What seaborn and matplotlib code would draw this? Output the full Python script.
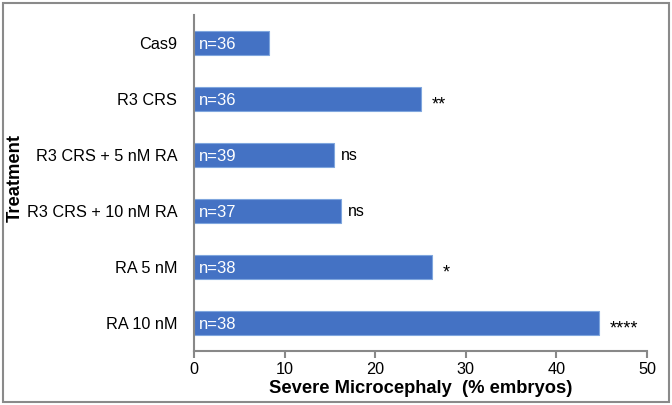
import numpy as np
import pandas as pd
import seaborn as sns
import matplotlib.pyplot as plt
from matplotlib.patches import Rectangle

treatments = ["Cas9", "R3 CRS", "R3 CRS + 5 nM RA", "R3 CRS + 10 nM RA", "RA 5 nM", "RA 10 nM"]
pct_severe = [8.3, 25.0, 15.4, 16.2, 26.3, 44.7]
n_labels = ["n=36", "n=36", "n=39", "n=37", "n=38", "n=38"]
signif = ["", "**", "ns", "ns", "*", "****"]

df = pd.DataFrame({"Treatment": treatments, "pct": pct_severe})

sns.set_style("white")
plt.rcParams['font.family'] = ['Liberation Sans', 'DejaVu Sans']

fig = plt.figure(figsize=(6.72, 4.05), dpi=100)
ax = fig.add_axes([194/672, 1 - 351/405, (647 - 194)/672, (351 - 15)/405])

sns.barplot(data=df, y="Treatment", x="pct", orient="h", color="#4472C4",
            saturation=1, width=0.42, edgecolor="#7FA6DE", linewidth=0.8, ax=ax)

# n labels inside bars, significance after bars
for i, (v, n, s) in enumerate(zip(pct_severe, n_labels, signif)):
    ax.text(0.5, i + 0.02, n, color="white", va="center", ha="left", fontsize=12)
    if s == "ns":
        ax.text(v + 0.8, i, s, color="black", va="center", ha="left", fontsize=11.5)
    elif s:
        ax.text(v + 1.2, i + 0.1, s, color="black", va="center", ha="left", fontsize=13)

ax.set_xlim(0, 50)
ax.set_ylim(5.5, -0.5)
ax.set_xticks(np.arange(0, 51, 10))
ax.set_yticks(range(len(treatments)))
ax.set_yticks(np.arange(-0.5, 6, 1), minor=True)
ax.tick_params(axis="y", which="major", length=0, pad=12, labelsize=11.7, labelcolor="black")
ax.tick_params(axis="y", which="minor", length=6, width=1.5, direction="inout", color="#888888")
ax.tick_params(axis="x", which="major", length=5, width=1.5, direction="out", color="#888888",
               labelsize=11.7, pad=3, bottom=True, labelcolor="black")

for side in ["top", "right"]:
    ax.spines[side].set_visible(False)
for side in ["left", "bottom"]:
    ax.spines[side].set_color("#888888")
    ax.spines[side].set_linewidth(1.5)

ax.set_xlabel("Severe Microcephaly  (% embryos)", fontsize=13.2, fontweight="bold",
              labelpad=2, color="black")
ax.set_ylabel("")
fig.text(15/672, 1 - 178/405, "Treatment", rotation=90, va="center", ha="center",
         fontsize=13.2, fontweight="bold", color="black")

# outer frame
fig.patches.append(Rectangle((3/672, 3/405), 1 - 6/672, 1 - 6/405, transform=fig.transFigure,
                             fill=False, edgecolor="#8a8a8a", linewidth=1.5))

fig.savefig("out.png", dpi=100)
